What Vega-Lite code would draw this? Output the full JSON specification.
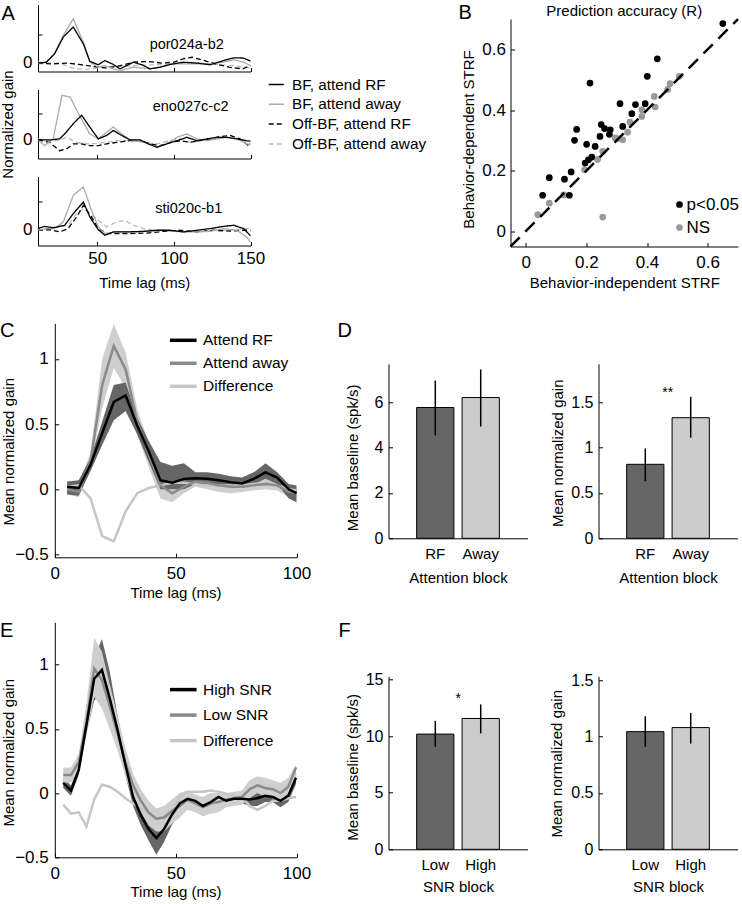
{
  "$schema": "https://vega.github.io/schema/vega-lite/v6.json",
  "padding": {"left": 0, "top": 2.5, "right": 0, "bottom": 0},
  "config": {
    "font": "Liberation Sans",
    "view": {"stroke": null},
    "axis": {"labelFont": "Liberation Sans", "labelFontSize": 17, "labelColor": "#000000", "titleFont": "Liberation Sans", "titleFontSize": 15, "titleFontWeight": "normal", "titleColor": "#000000", "domainColor": "#000000", "domainWidth": 1, "tickColor": "#000000", "tickWidth": 1, "tickSize": -4, "labelPadding": 10, "titlePadding": 8, "grid": false, "labelFlush": false, "labelOverlap": false},
    "legend": {"labelFont": "Liberation Sans", "labelColor": "#000000", "padding": 0},
    "title": {"font": "Liberation Sans", "fontWeight": "normal", "color": "#000000", "fontSize": 20},
    "text": {"font": "Liberation Sans"}
  },
  "datasets": {
    "A": [
      {"c":"por024a-b2","k":"Off-BF, attend away","t":11.4,"g":0.02},{"c":"por024a-b2","k":"Off-BF, attend away","t":20,"g":-0.02},{"c":"por024a-b2","k":"Off-BF, attend away","t":28,"g":-0.08},{"c":"por024a-b2","k":"Off-BF, attend away","t":35,"g":-0.22},{"c":"por024a-b2","k":"Off-BF, attend away","t":42,"g":-0.25},{"c":"por024a-b2","k":"Off-BF, attend away","t":50,"g":-0.2},{"c":"por024a-b2","k":"Off-BF, attend away","t":60,"g":-0.15},{"c":"por024a-b2","k":"Off-BF, attend away","t":70,"g":-0.12},{"c":"por024a-b2","k":"Off-BF, attend away","t":80,"g":-0.1},{"c":"por024a-b2","k":"Off-BF, attend away","t":90,"g":-0.08},{"c":"por024a-b2","k":"Off-BF, attend away","t":100,"g":-0.05},{"c":"por024a-b2","k":"Off-BF, attend away","t":110,"g":0},{"c":"por024a-b2","k":"Off-BF, attend away","t":120,"g":-0.03},{"c":"por024a-b2","k":"Off-BF, attend away","t":130,"g":-0.08},{"c":"por024a-b2","k":"Off-BF, attend away","t":140,"g":-0.12},{"c":"por024a-b2","k":"Off-BF, attend away","t":150,"g":-0.2},
      {"c":"por024a-b2","k":"Off-BF, attend RF","t":11.4,"g":-0.03},{"c":"por024a-b2","k":"Off-BF, attend RF","t":20,"g":-0.05},{"c":"por024a-b2","k":"Off-BF, attend RF","t":30,"g":-0.02},{"c":"por024a-b2","k":"Off-BF, attend RF","t":38,"g":-0.07},{"c":"por024a-b2","k":"Off-BF, attend RF","t":47,"g":-0.14},{"c":"por024a-b2","k":"Off-BF, attend RF","t":56,"g":-0.2},{"c":"por024a-b2","k":"Off-BF, attend RF","t":65,"g":-0.11},{"c":"por024a-b2","k":"Off-BF, attend RF","t":74,"g":0.01},{"c":"por024a-b2","k":"Off-BF, attend RF","t":83,"g":0.04},{"c":"por024a-b2","k":"Off-BF, attend RF","t":92,"g":-0.02},{"c":"por024a-b2","k":"Off-BF, attend RF","t":100,"g":0.01},{"c":"por024a-b2","k":"Off-BF, attend RF","t":106,"g":0.13},{"c":"por024a-b2","k":"Off-BF, attend RF","t":112,"g":0.19},{"c":"por024a-b2","k":"Off-BF, attend RF","t":118,"g":0.1},{"c":"por024a-b2","k":"Off-BF, attend RF","t":127,"g":-0.05},{"c":"por024a-b2","k":"Off-BF, attend RF","t":136,"g":-0.17},{"c":"por024a-b2","k":"Off-BF, attend RF","t":145,"g":-0.23},{"c":"por024a-b2","k":"Off-BF, attend RF","t":150,"g":-0.11},
      {"c":"por024a-b2","k":"BF, attend away","t":11.4,"g":-0.03},{"c":"por024a-b2","k":"BF, attend away","t":16.8,"g":0},{"c":"por024a-b2","k":"BF, attend away","t":22.2,"g":0.33},{"c":"por024a-b2","k":"BF, attend away","t":27.9,"g":0.98},{"c":"por024a-b2","k":"BF, attend away","t":34.4,"g":1.58},{"c":"por024a-b2","k":"BF, attend away","t":41,"g":0.73},{"c":"por024a-b2","k":"BF, attend away","t":45.2,"g":0.02},{"c":"por024a-b2","k":"BF, attend away","t":50.7,"g":-0.17},{"c":"por024a-b2","k":"BF, attend away","t":55,"g":-0.11},{"c":"por024a-b2","k":"BF, attend away","t":60.5,"g":-0.23},{"c":"por024a-b2","k":"BF, attend away","t":64.9,"g":-0.29},{"c":"por024a-b2","k":"BF, attend away","t":69.3,"g":-0.23},{"c":"por024a-b2","k":"BF, attend away","t":73.6,"g":-0.17},{"c":"por024a-b2","k":"BF, attend away","t":79.1,"g":-0.2},{"c":"por024a-b2","k":"BF, attend away","t":84.5,"g":-0.23},{"c":"por024a-b2","k":"BF, attend away","t":91,"g":-0.17},{"c":"por024a-b2","k":"BF, attend away","t":97.6,"g":-0.05},{"c":"por024a-b2","k":"BF, attend away","t":106.2,"g":-0.05},{"c":"por024a-b2","k":"BF, attend away","t":115,"g":-0.05},{"c":"por024a-b2","k":"BF, attend away","t":123.7,"g":-0.05},{"c":"por024a-b2","k":"BF, attend away","t":132.4,"g":0.01},{"c":"por024a-b2","k":"BF, attend away","t":139,"g":0.1},{"c":"por024a-b2","k":"BF, attend away","t":145.5,"g":0.01},{"c":"por024a-b2","k":"BF, attend away","t":150,"g":-0.11},
      {"c":"por024a-b2","k":"BF, attend RF","t":11.4,"g":-0.02},{"c":"por024a-b2","k":"BF, attend RF","t":16.8,"g":0.01},{"c":"por024a-b2","k":"BF, attend RF","t":22.2,"g":0.31},{"c":"por024a-b2","k":"BF, attend RF","t":27.9,"g":0.92},{"c":"por024a-b2","k":"BF, attend RF","t":34.4,"g":1.28},{"c":"por024a-b2","k":"BF, attend RF","t":41,"g":0.67},{"c":"por024a-b2","k":"BF, attend RF","t":45.2,"g":0.04},{"c":"por024a-b2","k":"BF, attend RF","t":50.7,"g":-0.08},{"c":"por024a-b2","k":"BF, attend RF","t":55,"g":0.07},{"c":"por024a-b2","k":"BF, attend RF","t":60.5,"g":-0.07},{"c":"por024a-b2","k":"BF, attend RF","t":64.9,"g":-0.23},{"c":"por024a-b2","k":"BF, attend RF","t":69.3,"g":-0.11},{"c":"por024a-b2","k":"BF, attend RF","t":73.6,"g":0.01},{"c":"por024a-b2","k":"BF, attend RF","t":79.1,"g":-0.08},{"c":"por024a-b2","k":"BF, attend RF","t":84.5,"g":-0.23},{"c":"por024a-b2","k":"BF, attend RF","t":91,"g":-0.17},{"c":"por024a-b2","k":"BF, attend RF","t":97.6,"g":-0.07},{"c":"por024a-b2","k":"BF, attend RF","t":106.2,"g":0.01},{"c":"por024a-b2","k":"BF, attend RF","t":115,"g":-0.02},{"c":"por024a-b2","k":"BF, attend RF","t":123.7,"g":-0.08},{"c":"por024a-b2","k":"BF, attend RF","t":132.4,"g":0.07},{"c":"por024a-b2","k":"BF, attend RF","t":139,"g":0.17},{"c":"por024a-b2","k":"BF, attend RF","t":145.5,"g":0.16},{"c":"por024a-b2","k":"BF, attend RF","t":150,"g":0.05},
      {"c":"eno027c-c2","k":"Off-BF, attend away","t":11.4,"g":0.04},{"c":"eno027c-c2","k":"Off-BF, attend away","t":18.9,"g":-0.03},{"c":"eno027c-c2","k":"Off-BF, attend away","t":25.5,"g":-0.03},{"c":"eno027c-c2","k":"Off-BF, attend away","t":29.8,"g":0.1},{"c":"eno027c-c2","k":"Off-BF, attend away","t":36.3,"g":-0.09},{"c":"eno027c-c2","k":"Off-BF, attend away","t":43,"g":-0.15},{"c":"eno027c-c2","k":"Off-BF, attend away","t":49.5,"g":-0.13},{"c":"eno027c-c2","k":"Off-BF, attend away","t":56,"g":-0.09},{"c":"eno027c-c2","k":"Off-BF, attend away","t":62.8,"g":-0.03},{"c":"eno027c-c2","k":"Off-BF, attend away","t":71.5,"g":-0.03},{"c":"eno027c-c2","k":"Off-BF, attend away","t":80,"g":-0.09},{"c":"eno027c-c2","k":"Off-BF, attend away","t":88.9,"g":-0.15},{"c":"eno027c-c2","k":"Off-BF, attend away","t":97.6,"g":-0.03},{"c":"eno027c-c2","k":"Off-BF, attend away","t":104,"g":0.04},{"c":"eno027c-c2","k":"Off-BF, attend away","t":110.6,"g":-0.09},{"c":"eno027c-c2","k":"Off-BF, attend away","t":119,"g":-0.03},{"c":"eno027c-c2","k":"Off-BF, attend away","t":128,"g":0.04},{"c":"eno027c-c2","k":"Off-BF, attend away","t":136.7,"g":0.1},{"c":"eno027c-c2","k":"Off-BF, attend away","t":145,"g":0},{"c":"eno027c-c2","k":"Off-BF, attend away","t":150,"g":-0.15},
      {"c":"eno027c-c2","k":"Off-BF, attend RF","t":11.4,"g":0},{"c":"eno027c-c2","k":"Off-BF, attend RF","t":18.9,"g":-0.09},{"c":"eno027c-c2","k":"Off-BF, attend RF","t":25.5,"g":-0.41},{"c":"eno027c-c2","k":"Off-BF, attend RF","t":29.8,"g":-0.35},{"c":"eno027c-c2","k":"Off-BF, attend RF","t":34.4,"g":-0.15},{"c":"eno027c-c2","k":"Off-BF, attend RF","t":39.9,"g":-0.15},{"c":"eno027c-c2","k":"Off-BF, attend RF","t":45.2,"g":-0.22},{"c":"eno027c-c2","k":"Off-BF, attend RF","t":50.7,"g":-0.22},{"c":"eno027c-c2","k":"Off-BF, attend RF","t":56.2,"g":-0.15},{"c":"eno027c-c2","k":"Off-BF, attend RF","t":62.8,"g":-0.09},{"c":"eno027c-c2","k":"Off-BF, attend RF","t":71.5,"g":-0.03},{"c":"eno027c-c2","k":"Off-BF, attend RF","t":78,"g":-0.03},{"c":"eno027c-c2","k":"Off-BF, attend RF","t":84.5,"g":-0.15},{"c":"eno027c-c2","k":"Off-BF, attend RF","t":91,"g":-0.22},{"c":"eno027c-c2","k":"Off-BF, attend RF","t":97.6,"g":-0.09},{"c":"eno027c-c2","k":"Off-BF, attend RF","t":104,"g":-0.03},{"c":"eno027c-c2","k":"Off-BF, attend RF","t":110.6,"g":-0.09},{"c":"eno027c-c2","k":"Off-BF, attend RF","t":117,"g":-0.03},{"c":"eno027c-c2","k":"Off-BF, attend RF","t":123.7,"g":0.04},{"c":"eno027c-c2","k":"Off-BF, attend RF","t":130.2,"g":0.13},{"c":"eno027c-c2","k":"Off-BF, attend RF","t":136.7,"g":0.17},{"c":"eno027c-c2","k":"Off-BF, attend RF","t":143.2,"g":0.04},{"c":"eno027c-c2","k":"Off-BF, attend RF","t":150,"g":-0.28},
      {"c":"eno027c-c2","k":"BF, attend away","t":11.4,"g":0},{"c":"eno027c-c2","k":"BF, attend away","t":15.7,"g":-0.22},{"c":"eno027c-c2","k":"BF, attend away","t":21.3,"g":0.04},{"c":"eno027c-c2","k":"BF, attend away","t":27,"g":1.7},{"c":"eno027c-c2","k":"BF, attend away","t":32.3,"g":1.64},{"c":"eno027c-c2","k":"BF, attend away","t":39,"g":0.87},{"c":"eno027c-c2","k":"BF, attend away","t":45.2,"g":0.23},{"c":"eno027c-c2","k":"BF, attend away","t":50.7,"g":0.04},{"c":"eno027c-c2","k":"BF, attend away","t":56.2,"g":0.29},{"c":"eno027c-c2","k":"BF, attend away","t":60.5,"g":0.49},{"c":"eno027c-c2","k":"BF, attend away","t":66,"g":0.23},{"c":"eno027c-c2","k":"BF, attend away","t":71.5,"g":0},{"c":"eno027c-c2","k":"BF, attend away","t":78,"g":-0.03},{"c":"eno027c-c2","k":"BF, attend away","t":83.4,"g":-0.15},{"c":"eno027c-c2","k":"BF, attend away","t":88.9,"g":-0.28},{"c":"eno027c-c2","k":"BF, attend away","t":95.4,"g":-0.15},{"c":"eno027c-c2","k":"BF, attend away","t":102,"g":0.1},{"c":"eno027c-c2","k":"BF, attend away","t":108.5,"g":0.23},{"c":"eno027c-c2","k":"BF, attend away","t":115,"g":0.04},{"c":"eno027c-c2","k":"BF, attend away","t":121.5,"g":-0.03},{"c":"eno027c-c2","k":"BF, attend away","t":128.1,"g":0.04},{"c":"eno027c-c2","k":"BF, attend away","t":134.6,"g":0.1},{"c":"eno027c-c2","k":"BF, attend away","t":141.1,"g":0.04},{"c":"eno027c-c2","k":"BF, attend away","t":147.6,"g":-0.15},{"c":"eno027c-c2","k":"BF, attend away","t":150,"g":-0.2},
      {"c":"eno027c-c2","k":"BF, attend RF","t":11.4,"g":0},{"c":"eno027c-c2","k":"BF, attend RF","t":18.9,"g":0},{"c":"eno027c-c2","k":"BF, attend RF","t":25.5,"g":0.04},{"c":"eno027c-c2","k":"BF, attend RF","t":29.8,"g":0.29},{"c":"eno027c-c2","k":"BF, attend RF","t":34.4,"g":0.62},{"c":"eno027c-c2","k":"BF, attend RF","t":39.9,"g":0.94},{"c":"eno027c-c2","k":"BF, attend RF","t":45.2,"g":0.49},{"c":"eno027c-c2","k":"BF, attend RF","t":50.7,"g":0.04},{"c":"eno027c-c2","k":"BF, attend RF","t":56.2,"g":0.17},{"c":"eno027c-c2","k":"BF, attend RF","t":60.5,"g":0.36},{"c":"eno027c-c2","k":"BF, attend RF","t":66,"g":0.17},{"c":"eno027c-c2","k":"BF, attend RF","t":71.5,"g":0},{"c":"eno027c-c2","k":"BF, attend RF","t":78,"g":0},{"c":"eno027c-c2","k":"BF, attend RF","t":83.4,"g":-0.15},{"c":"eno027c-c2","k":"BF, attend RF","t":88.9,"g":-0.28},{"c":"eno027c-c2","k":"BF, attend RF","t":95.4,"g":-0.15},{"c":"eno027c-c2","k":"BF, attend RF","t":102,"g":-0.03},{"c":"eno027c-c2","k":"BF, attend RF","t":108.5,"g":0.1},{"c":"eno027c-c2","k":"BF, attend RF","t":115,"g":-0.03},{"c":"eno027c-c2","k":"BF, attend RF","t":121.5,"g":0.04},{"c":"eno027c-c2","k":"BF, attend RF","t":128.1,"g":0.1},{"c":"eno027c-c2","k":"BF, attend RF","t":134.6,"g":0.1},{"c":"eno027c-c2","k":"BF, attend RF","t":141.1,"g":0.04},{"c":"eno027c-c2","k":"BF, attend RF","t":147.6,"g":-0.03},{"c":"eno027c-c2","k":"BF, attend RF","t":150,"g":-0.05},
      {"c":"sti020c-b1","k":"Off-BF, attend away","t":11.4,"g":-0.02},{"c":"sti020c-b1","k":"Off-BF, attend away","t":19,"g":0.04},{"c":"sti020c-b1","k":"Off-BF, attend away","t":25.5,"g":0.1},{"c":"sti020c-b1","k":"Off-BF, attend away","t":31,"g":0.16},{"c":"sti020c-b1","k":"Off-BF, attend away","t":36.6,"g":0.58},{"c":"sti020c-b1","k":"Off-BF, attend away","t":41,"g":0.76},{"c":"sti020c-b1","k":"Off-BF, attend away","t":46.3,"g":0.52},{"c":"sti020c-b1","k":"Off-BF, attend away","t":50.7,"g":0.34},{"c":"sti020c-b1","k":"Off-BF, attend away","t":56.2,"g":0.1},{"c":"sti020c-b1","k":"Off-BF, attend away","t":62.6,"g":0.28},{"c":"sti020c-b1","k":"Off-BF, attend away","t":68,"g":0.34},{"c":"sti020c-b1","k":"Off-BF, attend away","t":73.6,"g":0.16},{"c":"sti020c-b1","k":"Off-BF, attend away","t":80.2,"g":0.04},{"c":"sti020c-b1","k":"Off-BF, attend away","t":88.9,"g":-0.02},{"c":"sti020c-b1","k":"Off-BF, attend away","t":97.6,"g":-0.06},{"c":"sti020c-b1","k":"Off-BF, attend away","t":106.2,"g":-0.08},{"c":"sti020c-b1","k":"Off-BF, attend away","t":115,"g":-0.06},{"c":"sti020c-b1","k":"Off-BF, attend away","t":125.8,"g":-0.02},{"c":"sti020c-b1","k":"Off-BF, attend away","t":136.7,"g":-0.02},{"c":"sti020c-b1","k":"Off-BF, attend away","t":145.5,"g":0.04},{"c":"sti020c-b1","k":"Off-BF, attend away","t":150,"g":0.04},
      {"c":"sti020c-b1","k":"Off-BF, attend RF","t":11.4,"g":-0.02},{"c":"sti020c-b1","k":"Off-BF, attend RF","t":19,"g":0},{"c":"sti020c-b1","k":"Off-BF, attend RF","t":25.5,"g":-0.08},{"c":"sti020c-b1","k":"Off-BF, attend RF","t":31,"g":0.04},{"c":"sti020c-b1","k":"Off-BF, attend RF","t":36.6,"g":0.46},{"c":"sti020c-b1","k":"Off-BF, attend RF","t":41,"g":0.88},{"c":"sti020c-b1","k":"Off-BF, attend RF","t":46.3,"g":0.46},{"c":"sti020c-b1","k":"Off-BF, attend RF","t":50.7,"g":0.04},{"c":"sti020c-b1","k":"Off-BF, attend RF","t":56.2,"g":-0.14},{"c":"sti020c-b1","k":"Off-BF, attend RF","t":62.6,"g":-0.14},{"c":"sti020c-b1","k":"Off-BF, attend RF","t":71.5,"g":-0.14},{"c":"sti020c-b1","k":"Off-BF, attend RF","t":82.4,"g":-0.12},{"c":"sti020c-b1","k":"Off-BF, attend RF","t":93.2,"g":-0.06},{"c":"sti020c-b1","k":"Off-BF, attend RF","t":104,"g":-0.02},{"c":"sti020c-b1","k":"Off-BF, attend RF","t":115,"g":-0.08},{"c":"sti020c-b1","k":"Off-BF, attend RF","t":125.8,"g":-0.02},{"c":"sti020c-b1","k":"Off-BF, attend RF","t":136.7,"g":-0.05},{"c":"sti020c-b1","k":"Off-BF, attend RF","t":145.5,"g":-0.02},{"c":"sti020c-b1","k":"Off-BF, attend RF","t":150,"g":-0.02},
      {"c":"sti020c-b1","k":"BF, attend away","t":11.4,"g":-0.02},{"c":"sti020c-b1","k":"BF, attend away","t":16.8,"g":0.04},{"c":"sti020c-b1","k":"BF, attend away","t":22.2,"g":0.04},{"c":"sti020c-b1","k":"BF, attend away","t":27.9,"g":0.28},{"c":"sti020c-b1","k":"BF, attend away","t":34.4,"g":1.24},{"c":"sti020c-b1","k":"BF, attend away","t":41,"g":1.54},{"c":"sti020c-b1","k":"BF, attend away","t":46.3,"g":0.7},{"c":"sti020c-b1","k":"BF, attend away","t":50.7,"g":0.1},{"c":"sti020c-b1","k":"BF, attend away","t":55,"g":-0.14},{"c":"sti020c-b1","k":"BF, attend away","t":62.6,"g":-0.08},{"c":"sti020c-b1","k":"BF, attend away","t":71.5,"g":-0.08},{"c":"sti020c-b1","k":"BF, attend away","t":82.4,"g":-0.06},{"c":"sti020c-b1","k":"BF, attend away","t":93.2,"g":-0.02},{"c":"sti020c-b1","k":"BF, attend away","t":106.2,"g":-0.08},{"c":"sti020c-b1","k":"BF, attend away","t":115,"g":-0.08},{"c":"sti020c-b1","k":"BF, attend away","t":123.7,"g":-0.06},{"c":"sti020c-b1","k":"BF, attend away","t":132.4,"g":0.04},{"c":"sti020c-b1","k":"BF, attend away","t":141.1,"g":-0.02},{"c":"sti020c-b1","k":"BF, attend away","t":147.6,"g":-0.27},{"c":"sti020c-b1","k":"BF, attend away","t":150,"g":-0.45},
      {"c":"sti020c-b1","k":"BF, attend RF","t":11.4,"g":0.04},{"c":"sti020c-b1","k":"BF, attend RF","t":15.7,"g":0.12},{"c":"sti020c-b1","k":"BF, attend RF","t":21.3,"g":0.07},{"c":"sti020c-b1","k":"BF, attend RF","t":28.8,"g":0.16},{"c":"sti020c-b1","k":"BF, attend RF","t":34.4,"g":0.58},{"c":"sti020c-b1","k":"BF, attend RF","t":41,"g":1},{"c":"sti020c-b1","k":"BF, attend RF","t":45.2,"g":0.46},{"c":"sti020c-b1","k":"BF, attend RF","t":50.7,"g":0},{"c":"sti020c-b1","k":"BF, attend RF","t":55,"g":-0.2},{"c":"sti020c-b1","k":"BF, attend RF","t":60.5,"g":-0.08},{"c":"sti020c-b1","k":"BF, attend RF","t":69.3,"g":-0.08},{"c":"sti020c-b1","k":"BF, attend RF","t":80.2,"g":-0.06},{"c":"sti020c-b1","k":"BF, attend RF","t":88.9,"g":-0.02},{"c":"sti020c-b1","k":"BF, attend RF","t":97.6,"g":-0.02},{"c":"sti020c-b1","k":"BF, attend RF","t":106.2,"g":-0.08},{"c":"sti020c-b1","k":"BF, attend RF","t":115,"g":-0.02},{"c":"sti020c-b1","k":"BF, attend RF","t":123.7,"g":0.04},{"c":"sti020c-b1","k":"BF, attend RF","t":132.4,"g":0.12},{"c":"sti020c-b1","k":"BF, attend RF","t":139,"g":0.16},{"c":"sti020c-b1","k":"BF, attend RF","t":145.5,"g":0.04},{"c":"sti020c-b1","k":"BF, attend RF","t":150,"g":-0.22}
    ],
    "B": [
      {"x":0.04,"y":0.055,"s":"NS"},{"x":0.078,"y":0.093,"s":"NS"},{"x":0.254,"y":0.047,"s":"NS"},{"x":0.194,"y":0.203,"s":"NS"},{"x":0.237,"y":0.237,"s":"NS"},{"x":0.254,"y":0.264,"s":"NS"},{"x":0.295,"y":0.308,"s":"NS"},{"x":0.308,"y":0.306,"s":"NS"},{"x":0.32,"y":0.302,"s":"NS"},{"x":0.336,"y":0.327,"s":"NS"},{"x":0.344,"y":0.36,"s":"NS"},{"x":0.383,"y":0.379,"s":"NS"},{"x":0.383,"y":0.401,"s":"NS"},{"x":0.424,"y":0.445,"s":"NS"},{"x":0.427,"y":0.41,"s":"NS"},{"x":0.468,"y":0.468,"s":"NS"},{"x":0.476,"y":0.487,"s":"NS"},{"x":0.506,"y":0.511,"s":"NS"},{"x":0.125,"y":0.12,"s":"NS"},
      {"x":0.056,"y":0.119,"s":"p<0.05"},{"x":0.078,"y":0.177,"s":"p<0.05"},{"x":0.128,"y":0.172,"s":"p<0.05"},{"x":0.15,"y":0.196,"s":"p<0.05"},{"x":0.144,"y":0.119,"s":"p<0.05"},{"x":0.161,"y":0.3,"s":"p<0.05"},{"x":0.168,"y":0.336,"s":"p<0.05"},{"x":0.201,"y":0.287,"s":"p<0.05"},{"x":0.212,"y":0.489,"s":"p<0.05"},{"x":0.196,"y":0.225,"s":"p<0.05"},{"x":0.207,"y":0.236,"s":"p<0.05"},{"x":0.218,"y":0.245,"s":"p<0.05"},{"x":0.229,"y":0.28,"s":"p<0.05"},{"x":0.245,"y":0.313,"s":"p<0.05"},{"x":0.249,"y":0.352,"s":"p<0.05"},{"x":0.26,"y":0.339,"s":"p<0.05"},{"x":0.276,"y":0.32,"s":"p<0.05"},{"x":0.279,"y":0.335,"s":"p<0.05"},{"x":0.311,"y":0.421,"s":"p<0.05"},{"x":0.32,"y":0.346,"s":"p<0.05"},{"x":0.35,"y":0.388,"s":"p<0.05"},{"x":0.362,"y":0.418,"s":"p<0.05"},{"x":0.394,"y":0.421,"s":"p<0.05"},{"x":0.401,"y":0.511,"s":"p<0.05"},{"x":0.434,"y":0.569,"s":"p<0.05"},{"x":0.65,"y":0.685,"s":"p<0.05"}
    ],
    "C": [
      {"s":"Attend RF","t":5.1,"m":0.02,"lo":-0.04,"hi":0.06},{"s":"Attend RF","t":9.9,"m":0.01,"lo":-0.05,"hi":0.07},{"s":"Attend RF","t":14.8,"m":0.19,"lo":0.14,"hi":0.24},{"s":"Attend RF","t":19.6,"m":0.43,"lo":0.34,"hi":0.52},{"s":"Attend RF","t":24.4,"m":0.67,"lo":0.53,"hi":0.8},{"s":"Attend RF","t":29.3,"m":0.72,"lo":0.6,"hi":0.82},{"s":"Attend RF","t":34.1,"m":0.49,"lo":0.42,"hi":0.55},{"s":"Attend RF","t":38.9,"m":0.29,"lo":0.21,"hi":0.37},{"s":"Attend RF","t":43.7,"m":0.07,"lo":0,"hi":0.21},{"s":"Attend RF","t":48.6,"m":0.05,"lo":0,"hi":0.18},{"s":"Attend RF","t":53.4,"m":0.08,"lo":0,"hi":0.2},{"s":"Attend RF","t":58.2,"m":0.085,"lo":0.04,"hi":0.13},{"s":"Attend RF","t":63,"m":0.08,"lo":0.04,"hi":0.13},{"s":"Attend RF","t":67.9,"m":0.07,"lo":0.03,"hi":0.12},{"s":"Attend RF","t":72.7,"m":0.055,"lo":0.02,"hi":0.1},{"s":"Attend RF","t":77.5,"m":0.045,"lo":0.01,"hi":0.09},{"s":"Attend RF","t":82.3,"m":0.08,"lo":0.04,"hi":0.13},{"s":"Attend RF","t":87.2,"m":0.13,"lo":0.08,"hi":0.2},{"s":"Attend RF","t":92,"m":0.09,"lo":0.04,"hi":0.13},{"s":"Attend RF","t":96.8,"m":0,"lo":-0.07,"hi":0.04},{"s":"Attend RF","t":100,"m":-0.03,"lo":-0.1,"hi":0.03},
      {"s":"Attend away","t":5.1,"m":0,"lo":-0.04,"hi":0.04},{"s":"Attend away","t":9.9,"m":-0.02,"lo":-0.06,"hi":0.05},{"s":"Attend away","t":14.8,"m":0.22,"lo":0.17,"hi":0.28},{"s":"Attend away","t":19.6,"m":0.8,"lo":0.62,"hi":1},{"s":"Attend away","t":24.4,"m":1.1,"lo":0.93,"hi":1.27},{"s":"Attend away","t":29.3,"m":0.92,"lo":0.78,"hi":1.05},{"s":"Attend away","t":34.1,"m":0.52,"lo":0.42,"hi":0.62},{"s":"Attend away","t":38.9,"m":0.27,"lo":0.17,"hi":0.35},{"s":"Attend away","t":43.7,"m":0.03,"lo":-0.07,"hi":0.1},{"s":"Attend away","t":48.6,"m":-0.03,"lo":-0.1,"hi":0.03},{"s":"Attend away","t":53.4,"m":0.02,"lo":-0.03,"hi":0.07},{"s":"Attend away","t":58.2,"m":0.06,"lo":0.02,"hi":0.1},{"s":"Attend away","t":63,"m":0.05,"lo":0,"hi":0.09},{"s":"Attend away","t":67.9,"m":0.03,"lo":-0.02,"hi":0.07},{"s":"Attend away","t":72.7,"m":0.02,"lo":-0.03,"hi":0.07},{"s":"Attend away","t":77.5,"m":0.02,"lo":-0.02,"hi":0.06},{"s":"Attend away","t":82.3,"m":0.03,"lo":-0.01,"hi":0.07},{"s":"Attend away","t":87.2,"m":0.04,"lo":0,"hi":0.09},{"s":"Attend away","t":92,"m":0.03,"lo":-0.01,"hi":0.07},{"s":"Attend away","t":96.8,"m":-0.02,"lo":-0.06,"hi":0.03},{"s":"Attend away","t":100,"m":-0.03,"lo":-0.07,"hi":0.02},
      {"s":"Difference","t":5.1,"m":0.02},{"s":"Difference","t":9.9,"m":0.03},{"s":"Difference","t":14.8,"m":-0.07},{"s":"Difference","t":19.6,"m":-0.36},{"s":"Difference","t":24.4,"m":-0.4},{"s":"Difference","t":29.3,"m":-0.17},{"s":"Difference","t":34.1,"m":-0.03},{"s":"Difference","t":38.9,"m":0.01},{"s":"Difference","t":43.7,"m":0.03},{"s":"Difference","t":48.6,"m":0.05},{"s":"Difference","t":53.4,"m":0.05},{"s":"Difference","t":58.2,"m":0.04},{"s":"Difference","t":63,"m":0.03},{"s":"Difference","t":67.9,"m":0.03},{"s":"Difference","t":72.7,"m":0.03},{"s":"Difference","t":77.5,"m":0.03},{"s":"Difference","t":82.3,"m":0.04},{"s":"Difference","t":87.2,"m":0.05},{"s":"Difference","t":92,"m":0.03},{"s":"Difference","t":96.8,"m":0},{"s":"Difference","t":100,"m":-0.01}
    ],
    "E": [
      {"s":"High SNR","t":3.5,"m":0.08,"lo":0.04,"hi":0.12},{"s":"High SNR","t":6.7,"m":0.02,"lo":-0.02,"hi":0.06},{"s":"High SNR","t":9.9,"m":0.18,"lo":0.14,"hi":0.22},{"s":"High SNR","t":13.1,"m":0.53,"lo":0.47,"hi":0.6},{"s":"High SNR","t":16.3,"m":0.89,"lo":0.72,"hi":1.05},{"s":"High SNR","t":19.5,"m":0.96,"lo":0.78,"hi":1.2},{"s":"High SNR","t":22.7,"m":0.74,"lo":0.6,"hi":0.95},{"s":"High SNR","t":26,"m":0.49,"lo":0.38,"hi":0.6},{"s":"High SNR","t":29.2,"m":0.22,"lo":0.14,"hi":0.3},{"s":"High SNR","t":32.4,"m":-0.03,"lo":-0.1,"hi":0.04},{"s":"High SNR","t":35.6,"m":-0.17,"lo":-0.25,"hi":-0.1},{"s":"High SNR","t":38.8,"m":-0.28,"lo":-0.37,"hi":-0.2},{"s":"High SNR","t":42,"m":-0.35,"lo":-0.48,"hi":-0.26},{"s":"High SNR","t":45.2,"m":-0.28,"lo":-0.38,"hi":-0.2},{"s":"High SNR","t":48.4,"m":-0.17,"lo":-0.25,"hi":-0.1},{"s":"High SNR","t":51.7,"m":-0.08,"lo":-0.14,"hi":-0.03},{"s":"High SNR","t":54.9,"m":-0.045,"lo":-0.09,"hi":0},{"s":"High SNR","t":58.1,"m":-0.06,"lo":-0.11,"hi":-0.02},{"s":"High SNR","t":61.3,"m":-0.1,"lo":-0.14,"hi":-0.05},{"s":"High SNR","t":64.5,"m":-0.07,"lo":-0.11,"hi":-0.03},{"s":"High SNR","t":67.7,"m":-0.03,"lo":-0.07,"hi":0},{"s":"High SNR","t":70.9,"m":-0.06,"lo":-0.1,"hi":-0.02},{"s":"High SNR","t":74.1,"m":-0.045,"lo":-0.09,"hi":0},{"s":"High SNR","t":77.4,"m":-0.045,"lo":-0.08,"hi":-0.01},{"s":"High SNR","t":80.6,"m":-0.05,"lo":-0.1,"hi":0},{"s":"High SNR","t":83.8,"m":-0.04,"lo":-0.1,"hi":0.01},{"s":"High SNR","t":87,"m":-0.02,"lo":-0.07,"hi":0.02},{"s":"High SNR","t":90.2,"m":-0.03,"lo":-0.07,"hi":0},{"s":"High SNR","t":93.4,"m":-0.06,"lo":-0.11,"hi":-0.02},{"s":"High SNR","t":96.6,"m":-0.02,"lo":-0.07,"hi":0.03},{"s":"High SNR","t":99.8,"m":0.12,"lo":0.07,"hi":0.17},
      {"s":"Low SNR","t":3.5,"m":0.14,"lo":0.08,"hi":0.2},{"s":"Low SNR","t":6.7,"m":0.14,"lo":0.08,"hi":0.2},{"s":"Low SNR","t":9.9,"m":0.24,"lo":0.18,"hi":0.3},{"s":"Low SNR","t":13.1,"m":0.55,"lo":0.45,"hi":0.7},{"s":"Low SNR","t":16.3,"m":0.97,"lo":0.75,"hi":1.21},{"s":"Low SNR","t":19.5,"m":0.88,"lo":0.66,"hi":1.1},{"s":"Low SNR","t":22.7,"m":0.68,"lo":0.5,"hi":0.85},{"s":"Low SNR","t":26,"m":0.46,"lo":0.33,"hi":0.6},{"s":"Low SNR","t":29.2,"m":0.24,"lo":0.13,"hi":0.35},{"s":"Low SNR","t":32.4,"m":0.06,"lo":-0.04,"hi":0.15},{"s":"Low SNR","t":35.6,"m":-0.06,"lo":-0.15,"hi":0.03},{"s":"Low SNR","t":38.8,"m":-0.15,"lo":-0.25,"hi":-0.06},{"s":"Low SNR","t":42,"m":-0.2,"lo":-0.3,"hi":-0.12},{"s":"Low SNR","t":45.2,"m":-0.19,"lo":-0.3,"hi":-0.1},{"s":"Low SNR","t":48.4,"m":-0.14,"lo":-0.24,"hi":-0.05},{"s":"Low SNR","t":51.7,"m":-0.1,"lo":-0.19,"hi":0},{"s":"Low SNR","t":54.9,"m":-0.05,"lo":-0.13,"hi":0.02},{"s":"Low SNR","t":58.1,"m":-0.08,"lo":-0.15,"hi":-0.01},{"s":"Low SNR","t":61.3,"m":-0.11,"lo":-0.18,"hi":-0.03},{"s":"Low SNR","t":64.5,"m":-0.08,"lo":-0.16,"hi":0},{"s":"Low SNR","t":67.7,"m":-0.07,"lo":-0.15,"hi":0},{"s":"Low SNR","t":70.9,"m":-0.05,"lo":-0.11,"hi":0},{"s":"Low SNR","t":74.1,"m":-0.04,"lo":-0.1,"hi":0.01},{"s":"Low SNR","t":77.4,"m":-0.03,"lo":-0.09,"hi":0.02},{"s":"Low SNR","t":80.6,"m":0.03,"lo":-0.04,"hi":0.1},{"s":"Low SNR","t":83.8,"m":0.06,"lo":0,"hi":0.13},{"s":"Low SNR","t":87,"m":0.04,"lo":-0.03,"hi":0.12},{"s":"Low SNR","t":90.2,"m":0.03,"lo":-0.03,"hi":0.1},{"s":"Low SNR","t":93.4,"m":0,"lo":-0.06,"hi":0.08},{"s":"Low SNR","t":96.6,"m":0.05,"lo":-0.01,"hi":0.12},{"s":"Low SNR","t":99.8,"m":0.2,"lo":0.13,"hi":0.22},
      {"s":"Difference","t":3.5,"m":-0.09},{"s":"Difference","t":6.7,"m":-0.16},{"s":"Difference","t":9.9,"m":-0.15},{"s":"Difference","t":13.1,"m":-0.26},{"s":"Difference","t":16.3,"m":-0.05},{"s":"Difference","t":19.5,"m":0.065},{"s":"Difference","t":22.7,"m":0.05},{"s":"Difference","t":26,"m":0.01},{"s":"Difference","t":29.2,"m":-0.04},{"s":"Difference","t":32.4,"m":-0.08},{"s":"Difference","t":35.6,"m":-0.12},{"s":"Difference","t":38.8,"m":-0.16},{"s":"Difference","t":42,"m":-0.2},{"s":"Difference","t":45.2,"m":-0.19},{"s":"Difference","t":48.4,"m":-0.15},{"s":"Difference","t":51.7,"m":-0.03},{"s":"Difference","t":54.9,"m":0.01},{"s":"Difference","t":58.1,"m":0.01},{"s":"Difference","t":61.3,"m":0.01},{"s":"Difference","t":64.5,"m":0.02},{"s":"Difference","t":67.7,"m":0.01},{"s":"Difference","t":70.9,"m":-0.005},{"s":"Difference","t":74.1,"m":-0.02},{"s":"Difference","t":77.4,"m":-0.03},{"s":"Difference","t":80.6,"m":-0.1},{"s":"Difference","t":83.8,"m":-0.13},{"s":"Difference","t":87,"m":-0.1},{"s":"Difference","t":90.2,"m":-0.06},{"s":"Difference","t":93.4,"m":-0.06},{"s":"Difference","t":96.6,"m":-0.04},{"s":"Difference","t":99.8,"m":-0.03}
    ]
  },
  "spacing": 29.8,
  "resolve": {"scale": {"color": "independent", "strokeDash": "independent"}},
  "vconcat": [
    {
      "hconcat": [
        {
          "title": {"text": "A", "anchor": "start", "frame": "group", "baseline": "top", "offset": -19.5, "dx": -36.5, "fontSize": 20},
          "spacing": 18,
          "bounds": "flush",
          "resolve": {"scale": {"color": "independent", "strokeDash": "independent"}},
          "vconcat": [
            {
              "width": 212.5, "height": 67,
              "title": {"text": "por024a-b2", "anchor": "end", "frame": "group", "baseline": "top", "offset": -48, "dx": -26.7, "fontSize": 14.5},
              "data": {"name": "A"},
              "transform": [{"filter": "datum.c === 'por024a-b2'"}],
              "mark": {"type": "line", "strokeWidth": 1.3},
              "encoding": {
                "x": {"field": "t", "type": "quantitative", "scale": {"domain": [11.4, 150], "nice": false, "zero": false}, "axis": {"values": [50, 100, 150], "labels": false, "title": null}},
                "y": {"field": "g", "type": "quantitative", "scale": {"domain": [-0.325, 2.094], "nice": false, "zero": false}, "axis": {"values": [0, 1], "labelExpr": "datum.value === 0 ? '0' : ''", "title": null, "labelPadding": 10}},
                "color": {"field": "k", "type": "nominal", "scale": {"domain": ["BF, attend RF", "BF, attend away", "Off-BF, attend RF", "Off-BF, attend away"], "range": ["#000000", "#aaaaaa", "#000000", "#bbbbbb"]}, "legend": {"orient": "none", "legendX": 229.75, "legendY": 71.5, "title": null, "symbolType": "stroke", "symbolSize": 225, "symbolStrokeWidth": 1.5, "labelFontSize": 15.3, "labelOffset": 7.25, "rowPadding": 2.8, "padding": 0}},
                "strokeDash": {"field": "k", "type": "nominal", "scale": {"domain": ["BF, attend RF", "BF, attend away", "Off-BF, attend RF", "Off-BF, attend away"], "range": [[1, 0], [1, 0], [5, 3], [5, 3]]}, "legend": {"orient": "none", "legendX": 229.75, "legendY": 71.5, "title": null, "symbolType": "stroke", "symbolSize": 225, "symbolStrokeWidth": 1.5, "labelFontSize": 15.3, "labelOffset": 7.25, "rowPadding": 2.8, "padding": 0}}
              }
            },
            {
              "width": 212.5, "height": 69,
              "title": {"text": "eno027c-c2", "anchor": "end", "frame": "group", "baseline": "top", "offset": -44.2, "dx": -22, "fontSize": 14.5},
              "data": {"name": "A"},
              "transform": [{"filter": "datum.c === 'eno027c-c2'"}],
              "mark": {"type": "line", "strokeWidth": 1.3},
              "encoding": {
                "x": {"field": "t", "type": "quantitative", "scale": {"domain": [11.4, 150], "nice": false, "zero": false}, "axis": {"values": [50, 100, 150], "labels": false, "title": null}},
                "y": {"field": "g", "type": "quantitative", "scale": {"domain": [-0.708, 1.923], "nice": false, "zero": false}, "axis": {"values": [0, 1], "labelExpr": "datum.value === 0 ? '0' : ''", "title": "Normalized gain", "labelPadding": 10, "titlePadding": 6.9}},
                "color": {"field": "k", "type": "nominal", "scale": {"domain": ["BF, attend RF", "BF, attend away", "Off-BF, attend RF", "Off-BF, attend away"], "range": ["#000000", "#aaaaaa", "#000000", "#bbbbbb"]}, "legend": null},
                "strokeDash": {"field": "k", "type": "nominal", "scale": {"domain": ["BF, attend RF", "BF, attend away", "Off-BF, attend RF", "Off-BF, attend away"], "range": [[1, 0], [1, 0], [5, 3], [5, 3]]}, "legend": null}
              }
            },
            {
              "width": 212.5, "height": 69,
              "title": {"text": "sti020c-b1", "anchor": "end", "frame": "group", "baseline": "top", "offset": -39.5, "dx": -28.3, "fontSize": 14.5},
              "data": {"name": "A"},
              "transform": [{"filter": "datum.c === 'sti020c-b1'"}],
              "mark": {"type": "line", "strokeWidth": 1.3},
              "encoding": {
                "x": {"field": "t", "type": "quantitative", "scale": {"domain": [11.4, 150], "nice": false, "zero": false}, "axis": {"values": [50, 100, 150], "title": "Time lag (ms)", "labelPadding": 8.65, "titlePadding": 9}},
                "y": {"field": "g", "type": "quantitative", "scale": {"domain": [-0.57, 1.92], "nice": false, "zero": false}, "axis": {"values": [0, 1], "labelExpr": "datum.value === 0 ? '0' : ''", "title": null, "labelPadding": 10}},
                "color": {"field": "k", "type": "nominal", "scale": {"domain": ["BF, attend RF", "BF, attend away", "Off-BF, attend RF", "Off-BF, attend away"], "range": ["#000000", "#aaaaaa", "#000000", "#bbbbbb"]}, "legend": null},
                "strokeDash": {"field": "k", "type": "nominal", "scale": {"domain": ["BF, attend RF", "BF, attend away", "Off-BF, attend RF", "Off-BF, attend away"], "range": [[1, 0], [1, 0], [5, 3], [5, 3]]}, "legend": null}
              }
            }
          ]
        },
        {
          "title": {"text": "B", "anchor": "start", "frame": "group", "baseline": "top", "offset": -19.3, "dx": -52, "fontSize": 20},
          "hconcat": [
            {
              "width": 227.5, "height": 242,
              "title": {"text": "Prediction accuracy (R)", "anchor": "middle", "frame": "group", "baseline": "top", "offset": -14.2, "fontSize": 15},
              "layer": [
                {
                  "data": {"name": "B"},
                  "mark": {"type": "circle", "size": 45, "opacity": 1},
                  "encoding": {
                    "x": {"field": "x", "type": "quantitative", "scale": {"domain": [-0.05, 0.7], "nice": false, "zero": false}, "axis": {"values": [0, 0.2, 0.4, 0.6], "format": "~g", "title": "Behavior-independent STRF", "labelPadding": 12.35, "titlePadding": 4.35}},
                    "y": {"field": "y", "type": "quantitative", "scale": {"domain": [-0.05, 0.748], "nice": false, "zero": false}, "axis": {"values": [0, 0.2, 0.4, 0.6], "format": "~g", "title": "Behavior-dependent STRF", "labelPadding": 9, "titlePadding": 5.75, "titleY": 134.5, "domainDash": [227.5, 1000]}},
                    "color": {"field": "s", "type": "nominal", "scale": {"domain": ["p<0.05", "NS"], "range": ["#000000", "#999999"]}, "legend": {"orient": "none", "legendX": 160.5, "legendY": 191.5, "title": null, "symbolType": "circle", "symbolSize": 45, "symbolStrokeWidth": 0, "labelFontSize": 17, "labelOffset": -1.5, "rowPadding": 5, "padding": 0}}
                  }
                },
                {
                  "data": {"values": [{"ref": "y = x"}]},
                  "mark": {"type": "rule", "color": "#000000", "strokeWidth": 2.5, "strokeDash": [13, 8]},
                  "encoding": {
                    "x": {"datum": -0.05, "type": "quantitative"},
                    "y": {"datum": -0.05, "type": "quantitative"},
                    "x2": {"datum": 0.7},
                    "y2": {"datum": 0.7}
                  }
                }
              ]
            }
          ]
        }
      ],
      "spacing": 31.5,
      "resolve": {"scale": {"color": "independent", "strokeDash": "independent"}}
    },
    {
      "spacing": 19,
      "resolve": {"scale": {"color": "independent"}},
      "vconcat": [
        {
          "spacing": 26.5,
          "resolve": {"scale": {"color": "independent"}},
          "hconcat": [
            {
              "width": 258.5, "height": 234,
              "title": {"text": "C", "anchor": "start", "frame": "group", "baseline": "top", "offset": -17.5, "dx": -38, "fontSize": 20},
              "data": {"name": "C"},
              "encoding": {"x": {"field": "t", "type": "quantitative", "scale": {"domain": [-6.95, 100], "nice": false, "zero": false}, "axis": {"values": [0, 50, 100], "title": "Time lag (ms)", "titleX": 137.5, "domainDash": [0, 16.8, 2000], "labelPadding": 12.65, "titlePadding": 4}}},
              "layer": [
                {"transform": [{"filter": "datum.s === 'Attend away'"}], "mark": {"type": "area", "color": "#cfcfcf"}, "encoding": {"y": {"field": "lo", "type": "quantitative", "scale": {"domain": [-0.522, 1.274], "nice": false, "zero": false}, "axis": {"values": [-0.5, 0, 0.5, 1], "format": "~g", "title": "Mean normalized gain", "offset": -16.8, "labelPadding": 10.6, "titlePadding": -1.85, "titleY": 128}}, "y2": {"field": "hi"}}},
                {"transform": [{"filter": "datum.s === 'Attend RF'"}], "mark": {"type": "area", "color": "#666666"}, "encoding": {"y": {"field": "lo", "type": "quantitative", "scale": {"domain": [-0.522, 1.274], "nice": false, "zero": false}}, "y2": {"field": "hi"}}},
                {"transform": [{"filter": "datum.s === 'Difference'"}], "mark": {"type": "line", "strokeWidth": 2.5}, "encoding": {"y": {"field": "m", "type": "quantitative", "scale": {"domain": [-0.522, 1.274], "nice": false, "zero": false}}, "color": {"field": "s", "type": "nominal", "scale": {"domain": ["Attend RF", "Attend away", "Difference"], "range": ["#000000", "#8a8a8a", "#c6c6c6"]}, "legend": {"orient": "none", "legendX": 133.75, "legendY": 5.5, "title": null, "symbolType": "M-1.4,0H1.4", "symbolSize": 361, "symbolStrokeWidth": 3.5, "labelFontSize": 15.5, "labelOffset": 8.25, "rowPadding": 3, "padding": 0}}}},
                {"transform": [{"filter": "datum.s === 'Attend away'"}], "mark": {"type": "line", "strokeWidth": 2.5}, "encoding": {"y": {"field": "m", "type": "quantitative", "scale": {"domain": [-0.522, 1.274], "nice": false, "zero": false}}, "color": {"field": "s", "type": "nominal", "scale": {"domain": ["Attend RF", "Attend away", "Difference"], "range": ["#000000", "#8a8a8a", "#c6c6c6"]}, "legend": {"orient": "none", "legendX": 133.75, "legendY": 5.5, "title": null, "symbolType": "M-1.4,0H1.4", "symbolSize": 361, "symbolStrokeWidth": 3.5, "labelFontSize": 15.5, "labelOffset": 8.25, "rowPadding": 3, "padding": 0}}}},
                {"transform": [{"filter": "datum.s === 'Attend RF'"}], "mark": {"type": "line", "strokeWidth": 2.5}, "encoding": {"y": {"field": "m", "type": "quantitative", "scale": {"domain": [-0.522, 1.274], "nice": false, "zero": false}}, "color": {"field": "s", "type": "nominal", "scale": {"domain": ["Attend RF", "Attend away", "Difference"], "range": ["#000000", "#8a8a8a", "#c6c6c6"]}, "legend": {"orient": "none", "legendX": 133.75, "legendY": 5.5, "title": null, "symbolType": "M-1.4,0H1.4", "symbolSize": 361, "symbolStrokeWidth": 3.5, "labelFontSize": 15.5, "labelOffset": 8.25, "rowPadding": 3, "padding": 0}}}}
              ]
            },
            {
              "title": {"text": "D", "anchor": "start", "frame": "group", "baseline": "top", "offset": -17.5, "dx": -51, "fontSize": 20},
              "spacing": 71,
              "bounds": "flush",
              "hconcat": [
                {
                  "width": 139, "height": 215,
                  "data": {"values": [{"b": "RF", "v": 5.77, "lo": 4.54, "hi": 6.96}, {"b": "Away", "v": 6.21, "lo": 4.93, "hi": 7.45}]},
                  "encoding": {"x": {"field": "b", "type": "nominal", "sort": ["RF", "Away"], "scale": {"paddingInner": 0.18, "paddingOuter": 0.62}, "axis": {"title": "Attention block", "labelAngle": 0, "ticks": false, "labelPadding": 8.5, "titlePadding": 9, "labelFontSize": 15}}},
                  "layer": [
                    {"mark": {"type": "bar", "stroke": "#000000", "strokeWidth": 1}, "encoding": {"y": {"field": "v", "type": "quantitative", "scale": {"domain": [0, 9.485], "nice": false}, "axis": {"values": [0, 2, 4, 6], "format": "~g", "title": "Mean baseline (spk/s)", "domainDash": [174.5, 1000], "labelFontSize": 16, "labelPadding": 9.5, "titlePadding": 14, "titleY": 134}}, "color": {"field": "b", "type": "nominal", "scale": {"domain": ["RF", "Away"], "range": ["#666666", "#cccccc"]}, "legend": null}}},
                    {"mark": {"type": "rule", "color": "#000000", "strokeWidth": 1.5}, "encoding": {"y": {"field": "lo", "type": "quantitative", "scale": {"domain": [0, 9.485], "nice": false}}, "y2": {"field": "hi"}}}
                  ]
                },
                {
                  "width": 139, "height": 215,
                  "data": {"values": [{"b": "RF", "v": 0.816, "lo": 0.63, "hi": 0.99}, {"b": "Away", "v": 1.33, "lo": 1.11, "hi": 1.56}]},
                  "encoding": {"x": {"field": "b", "type": "nominal", "sort": ["RF", "Away"], "scale": {"paddingInner": 0.18, "paddingOuter": 0.62}, "axis": {"title": "Attention block", "labelAngle": 0, "ticks": false, "labelPadding": 8.5, "titlePadding": 9, "labelFontSize": 15}}},
                  "layer": [
                    {"mark": {"type": "bar", "stroke": "#000000", "strokeWidth": 1}, "encoding": {"y": {"field": "v", "type": "quantitative", "scale": {"domain": [0, 2.371], "nice": false}, "axis": {"values": [0, 0.5, 1, 1.5], "format": "~g", "title": "Mean normalized gain", "domainDash": [174.5, 1000], "labelFontSize": 16, "labelPadding": 9.5, "titlePadding": 5.65, "titleY": 129.5}}, "color": {"field": "b", "type": "nominal", "scale": {"domain": ["RF", "Away"], "range": ["#666666", "#cccccc"]}, "legend": null}}},
                    {"mark": {"type": "rule", "color": "#000000", "strokeWidth": 1.5}, "encoding": {"y": {"field": "lo", "type": "quantitative", "scale": {"domain": [0, 2.371], "nice": false}}, "y2": {"field": "hi"}}},
                    {"data": {"values": [{"label": "**"}]}, "mark": {"type": "text", "fontSize": 14, "dx": -23, "baseline": "alphabetic", "color": "#000000"}, "encoding": {"x": {"datum": "Away", "type": "nominal"}, "y": {"datum": 1.554, "type": "quantitative", "scale": {"domain": [0, 2.371], "nice": false}}, "text": {"field": "label"}}}
                  ]
                }
              ]
            }
          ]
        },
        {
          "spacing": 27.5,
          "resolve": {"scale": {"color": "independent"}},
          "hconcat": [
            {
              "width": 258.5, "height": 235,
              "title": {"text": "E", "anchor": "start", "frame": "group", "baseline": "top", "offset": -18.5, "dx": -38, "fontSize": 20},
              "data": {"name": "E"},
              "encoding": {"x": {"field": "t", "type": "quantitative", "scale": {"domain": [-6.95, 100], "nice": false, "zero": false}, "axis": {"values": [0, 50, 100], "title": "Time lag (ms)", "titleX": 137.5, "domainDash": [0, 16.8, 2000], "labelPadding": 12.65, "titlePadding": 3}}},
              "layer": [
                {"transform": [{"filter": "datum.s === 'High SNR'"}], "mark": {"type": "area", "color": "#666666"}, "encoding": {"y": {"field": "lo", "type": "quantitative", "scale": {"domain": [-0.5, 1.33], "nice": false, "zero": false}, "axis": {"values": [-0.5, 0, 0.5, 1], "format": "~g", "title": "Mean normalized gain", "offset": -16.8, "labelPadding": 10.6, "titlePadding": -1.85, "titleY": 130}}, "y2": {"field": "hi"}}},
                {"transform": [{"filter": "datum.s === 'Low SNR'"}], "mark": {"type": "area", "color": "#cfcfcf"}, "encoding": {"y": {"field": "lo", "type": "quantitative", "scale": {"domain": [-0.5, 1.33], "nice": false, "zero": false}}, "y2": {"field": "hi"}}},
                {"transform": [{"filter": "datum.s === 'Difference'"}], "mark": {"type": "line", "strokeWidth": 2.5}, "encoding": {"y": {"field": "m", "type": "quantitative", "scale": {"domain": [-0.5, 1.33], "nice": false, "zero": false}}, "color": {"field": "s", "type": "nominal", "scale": {"domain": ["High SNR", "Low SNR", "Difference"], "range": ["#000000", "#8a8a8a", "#c6c6c6"]}, "legend": {"orient": "none", "legendX": 133.75, "legendY": 55.8, "title": null, "symbolType": "M-1.4,0H1.4", "symbolSize": 361, "symbolStrokeWidth": 3.5, "labelFontSize": 15.5, "labelOffset": 8.25, "rowPadding": 5.5, "padding": 0}}}},
                {"transform": [{"filter": "datum.s === 'Low SNR'"}], "mark": {"type": "line", "strokeWidth": 2.5}, "encoding": {"y": {"field": "m", "type": "quantitative", "scale": {"domain": [-0.5, 1.33], "nice": false, "zero": false}}, "color": {"field": "s", "type": "nominal", "scale": {"domain": ["High SNR", "Low SNR", "Difference"], "range": ["#000000", "#8a8a8a", "#c6c6c6"]}, "legend": {"orient": "none", "legendX": 133.75, "legendY": 55.8, "title": null, "symbolType": "M-1.4,0H1.4", "symbolSize": 361, "symbolStrokeWidth": 3.5, "labelFontSize": 15.5, "labelOffset": 8.25, "rowPadding": 5.5, "padding": 0}}}},
                {"transform": [{"filter": "datum.s === 'High SNR'"}], "mark": {"type": "line", "strokeWidth": 2.5}, "encoding": {"y": {"field": "m", "type": "quantitative", "scale": {"domain": [-0.5, 1.33], "nice": false, "zero": false}}, "color": {"field": "s", "type": "nominal", "scale": {"domain": ["High SNR", "Low SNR", "Difference"], "range": ["#000000", "#8a8a8a", "#c6c6c6"]}, "legend": {"orient": "none", "legendX": 133.75, "legendY": 55.8, "title": null, "symbolType": "M-1.4,0H1.4", "symbolSize": 361, "symbolStrokeWidth": 3.5, "labelFontSize": 15.5, "labelOffset": 8.25, "rowPadding": 5.5, "padding": 0}}}}
              ]
            },
            {
              "title": {"text": "F", "anchor": "start", "frame": "group", "baseline": "top", "offset": -18.5, "dx": -50, "fontSize": 20},
              "spacing": 71,
              "bounds": "flush",
              "hconcat": [
                {
                  "width": 139, "height": 227,
                  "data": {"values": [{"b": "Low", "v": 10.17, "lo": 9.05, "hi": 11.34}, {"b": "High", "v": 11.55, "lo": 10.23, "hi": 12.79}]},
                  "encoding": {"x": {"field": "b", "type": "nominal", "sort": ["Low", "High"], "scale": {"paddingInner": 0.18, "paddingOuter": 0.62}, "axis": {"title": "SNR block", "labelAngle": 0, "ticks": false, "labelPadding": 8.5, "titlePadding": 7, "labelFontSize": 15}}},
                  "layer": [
                    {"mark": {"type": "bar", "stroke": "#000000", "strokeWidth": 1}, "encoding": {"y": {"field": "v", "type": "quantitative", "scale": {"domain": [0, 20.04], "nice": false}, "axis": {"values": [0, 5, 10, 15], "format": "~g", "title": "Mean baseline (spk/s)", "domainDash": [173, 1000], "labelFontSize": 16, "labelPadding": 9.5, "titlePadding": 5, "titleY": 144.5}}, "color": {"field": "b", "type": "nominal", "scale": {"domain": ["Low", "High"], "range": ["#666666", "#cccccc"]}, "legend": null}}},
                    {"mark": {"type": "rule", "color": "#000000", "strokeWidth": 1.5}, "encoding": {"y": {"field": "lo", "type": "quantitative", "scale": {"domain": [0, 20.04], "nice": false}}, "y2": {"field": "hi"}}},
                    {"data": {"values": [{"label": "*"}]}, "mark": {"type": "text", "fontSize": 14, "dx": -22.5, "baseline": "alphabetic", "color": "#000000"}, "encoding": {"x": {"datum": "High", "type": "nominal"}, "y": {"datum": 12.92, "type": "quantitative", "scale": {"domain": [0, 20.04], "nice": false}}, "text": {"field": "label"}}}
                  ]
                },
                {
                  "width": 139, "height": 227,
                  "data": {"values": [{"b": "Low", "v": 1.044, "lo": 0.908, "hi": 1.18}, {"b": "High", "v": 1.08, "lo": 0.938, "hi": 1.21}]},
                  "encoding": {"x": {"field": "b", "type": "nominal", "sort": ["Low", "High"], "scale": {"paddingInner": 0.18, "paddingOuter": 0.62}, "axis": {"title": "SNR block", "labelAngle": 0, "ticks": false, "labelPadding": 8.5, "titlePadding": 7, "labelFontSize": 15}}},
                  "layer": [
                    {"mark": {"type": "bar", "stroke": "#000000", "strokeWidth": 1}, "encoding": {"y": {"field": "v", "type": "quantitative", "scale": {"domain": [0, 2.014], "nice": false}, "axis": {"values": [0, 0.5, 1, 1.5], "format": "~g", "title": "Mean normalized gain", "domainDash": [173, 1000], "labelFontSize": 16, "labelPadding": 9.5, "titlePadding": 6.65, "titleY": 141}}, "color": {"field": "b", "type": "nominal", "scale": {"domain": ["Low", "High"], "range": ["#666666", "#cccccc"]}, "legend": null}}},
                    {"mark": {"type": "rule", "color": "#000000", "strokeWidth": 1.5}, "encoding": {"y": {"field": "lo", "type": "quantitative", "scale": {"domain": [0, 2.014], "nice": false}}, "y2": {"field": "hi"}}}
                  ]
                }
              ]
            }
          ]
        }
      ]
    }
  ]
}
